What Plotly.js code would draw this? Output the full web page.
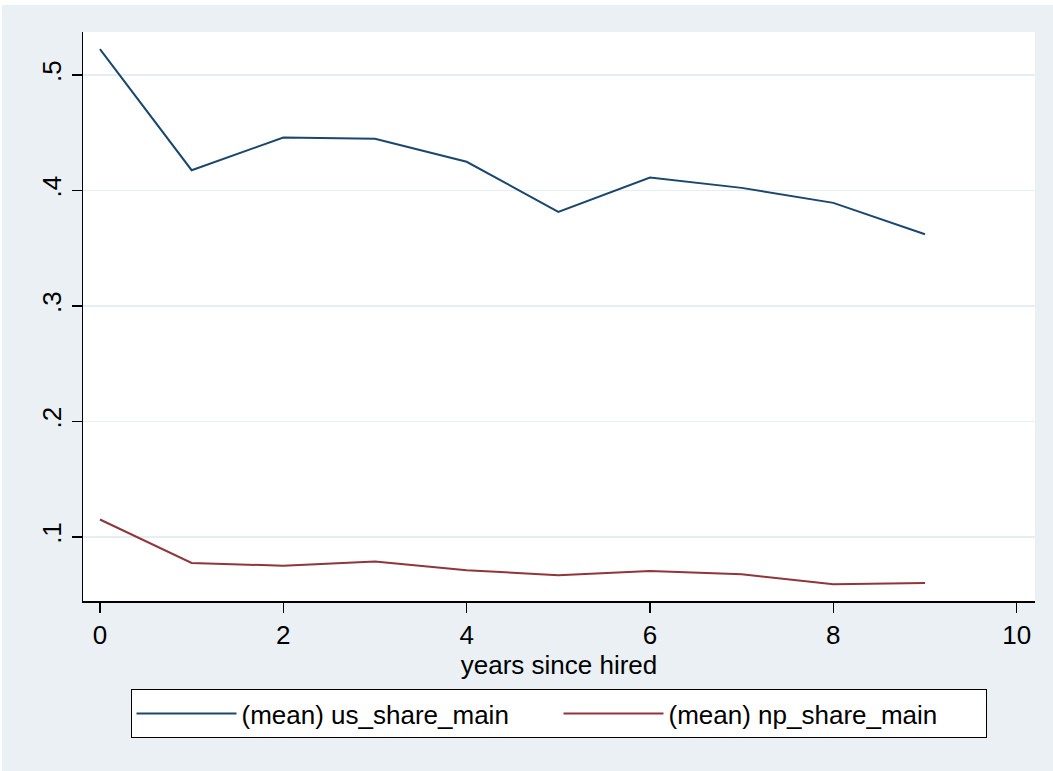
<!DOCTYPE html>
<html>
<head>
<meta charset="utf-8">
<script src="https://cdn.plot.ly/plotly-3.0.1.min.js"></script>
<style>
html,body{margin:0;padding:0;background:#ffffff;overflow:hidden;}
#chart{position:absolute;left:2px;top:5px;width:1051px;height:766px;}
</style>
</head>
<body>
<div id="chart"></div>
<script>
// Data
const yearsSinceHired = [0, 1, 2, 3, 4, 5, 6, 7, 8, 9];
const usShareMain = [0.5225, 0.4176, 0.4459, 0.4448, 0.4249, 0.3815, 0.4113, 0.4023, 0.3893, 0.3621];
const npShareMain = [0.1151, 0.0775, 0.0750, 0.0788, 0.0712, 0.0668, 0.0705, 0.0677, 0.0590, 0.0600];
const seriesNames = ["(mean) us_share_main", "(mean) np_share_main"];
const xTickVals = [0, 2, 4, 6, 8, 10];
const yTickVals = [0.1, 0.2, 0.3, 0.4, 0.5];
const yTickText = [".1", ".2", ".3", ".4", ".5"];
const xTitle = "years since hired";

const FONT = "Liberation Sans, Arial, Helvetica, sans-serif";
const BG = "#eaf0f3";

const traces = [
  {x: yearsSinceHired, y: usShareMain, name: seriesNames[0], type: "scatter", mode: "lines",
   line: {color: "#1a476f", width: 2}},
  {x: yearsSinceHired, y: npShareMain, name: seriesNames[1], type: "scatter", mode: "lines",
   line: {color: "#90353b", width: 2}}
];

const layout = {
  width: 1051, height: 766,
  paper_bgcolor: BG, plot_bgcolor: "#ffffff",
  margin: {l: 81, r: 18, t: 27, b: 170},
  font: {family: FONT, size: 26, color: "#000000"},
  showlegend: true,
  legend: {
    orientation: "h", xref: "container", yref: "container",
    x: 0.5295, xanchor: "center", y: 0.107, yanchor: "top",
    bgcolor: "#ffffff", bordercolor: "#000000", borderwidth: 1,
    font: {family: FONT, size: 26, color: "#000000"},
    itemwidth: 100, entrywidth: 312, entrywidthmode: "pixels"
  },
  xaxis: {
    range: [-0.185, 10.2], tickmode: "array", tickvals: xTickVals,
    ticks: "outside", ticklen: 10, tickwidth: 1.5, tickcolor: "#000000",
    showline: true, linecolor: "#000000", linewidth: 1.5,
    showgrid: false, zeroline: false,
    tickfont: {family: FONT, size: 26},
    title: {text: xTitle, font: {family: FONT, size: 26}, standoff: 4}
  },
  yaxis: {
    range: [0.0445, 0.5373], tickmode: "array", tickvals: yTickVals, ticktext: yTickText,
    ticks: "outside", ticklen: 10, tickwidth: 1.5, tickcolor: "#000000",
    tickangle: -90,
    showline: true, linecolor: "#000000", linewidth: 1.5,
    showgrid: true, gridcolor: "#e6eef1", gridwidth: 1.5, zeroline: false,
    tickfont: {family: FONT, size: 26}
  }
};

Plotly.newPlot("chart", traces, layout, {displayModeBar: false, staticPlot: true});
</script>
</body>
</html>
